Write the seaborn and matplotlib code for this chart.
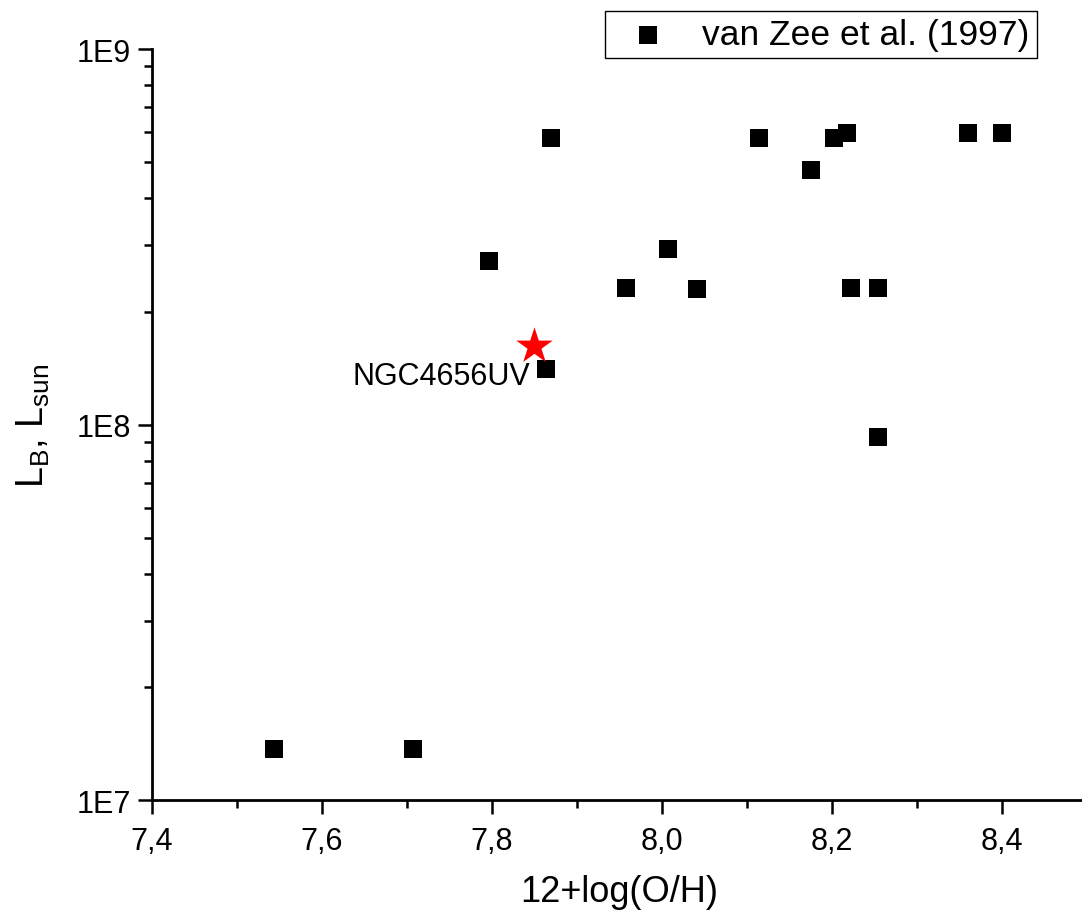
import matplotlib
matplotlib.use("Agg")
import matplotlib.pyplot as plt
import matplotlib.ticker as mticker
import seaborn as sns
import pandas as pd
import numpy as np

# Data: van Zee et al. (1997)
oh_vanzee = [7.543, 7.707, 7.797, 7.869, 7.863, 7.958, 8.007, 8.041, 8.114,
             8.175, 8.202, 8.218, 8.222, 8.254, 8.254, 8.360, 8.400]
lb_vanzee = [1.37e7, 1.37e7, 2.72e8, 5.8e8, 1.41e8, 2.31e8, 2.93e8, 2.30e8, 5.8e8,
             4.77e8, 5.8e8, 5.97e8, 2.31e8, 2.31e8, 9.27e7, 5.97e8, 5.97e8]
# NGC4656UV
oh_ngc = [7.850]
lb_ngc = [1.62e8]
ngc_label = "NGC4656UV"
legend_label = "van Zee et al. (1997)"

sns.set_style("ticks")
plt.rcParams['font.family'] = ['Liberation Sans', 'DejaVu Sans']
plt.rcParams['mathtext.default'] = 'regular'
plt.rcParams['text.color'] = 'black'
plt.rcParams['axes.labelcolor'] = 'black'
plt.rcParams['xtick.color'] = 'black'
plt.rcParams['ytick.color'] = 'black'
plt.rcParams['axes.edgecolor'] = 'black'

fig = plt.figure(figsize=(10.82, 9.20), dpi=100)
ax = fig.add_axes([0.1405, 0.1293, 0.864, 0.8163])

df = pd.DataFrame({"oh": oh_vanzee, "lb": lb_vanzee})
sns.scatterplot(data=df, x="oh", y="lb", marker="s", s=150, color="black",
                edgecolor="black", linewidth=0, ax=ax, label=legend_label, zorder=3)
dfn = pd.DataFrame({"oh": oh_ngc, "lb": lb_ngc})
sns.scatterplot(data=dfn, x="oh", y="lb", marker="*", s=760, color="red",
                edgecolor="red", linewidth=0, ax=ax, zorder=4, legend=False)
ax.annotate(ngc_label, (oh_ngc[0], lb_ngc[0]), xytext=(-3, -22),
            textcoords="offset points", ha="right", va="center", fontsize=22,
            color="black")

ax.set_yscale("log")
ax.set_xlim(7.4, 8.5)
ax.set_ylim(1e7, 1e9)
ax.xaxis.set_major_locator(mticker.MultipleLocator(0.2))
ax.xaxis.set_minor_locator(mticker.MultipleLocator(0.1))
ax.xaxis.set_major_formatter(mticker.FuncFormatter(lambda v, p: f"{v:.1f}".replace(".", ",")))
ax.yaxis.set_major_locator(mticker.LogLocator(base=10, numticks=10))
ax.yaxis.set_minor_locator(mticker.LogLocator(base=10, subs=np.arange(2, 10), numticks=20))
ax.yaxis.set_minor_formatter(mticker.NullFormatter())
ax.yaxis.set_major_formatter(mticker.FuncFormatter(lambda v, p: f"1E{int(round(np.log10(v)))}"))

ax.tick_params(axis="both", which="major", length=10, width=1.8, labelsize=22,
               direction="out", pad=5)
ax.tick_params(axis="x", which="major", pad=9)
ax.tick_params(axis="both", which="minor", length=6, width=1.8, direction="out")
for s in ["left", "bottom"]:
    ax.spines[s].set_linewidth(2.0)
sns.despine(ax=ax, top=True, right=True)

ax.set_xlabel("12+log(O/H)", fontsize=26, labelpad=13)
ax.set_ylabel("L$_B$, L$_{sun}$", fontsize=27, labelpad=18)

leg = ax.legend(loc="upper left", bbox_to_anchor=(605 / 1082, 1 - 12 / 920),
                bbox_transform=fig.transFigure, fontsize=25.5,
                frameon=True, fancybox=False, edgecolor="black", framealpha=1,
                handletextpad=0.55, borderpad=0.2, borderaxespad=0, markerscale=1.0)
leg.get_frame().set_linewidth(1.0)

fig.savefig("out.png", dpi=100)
